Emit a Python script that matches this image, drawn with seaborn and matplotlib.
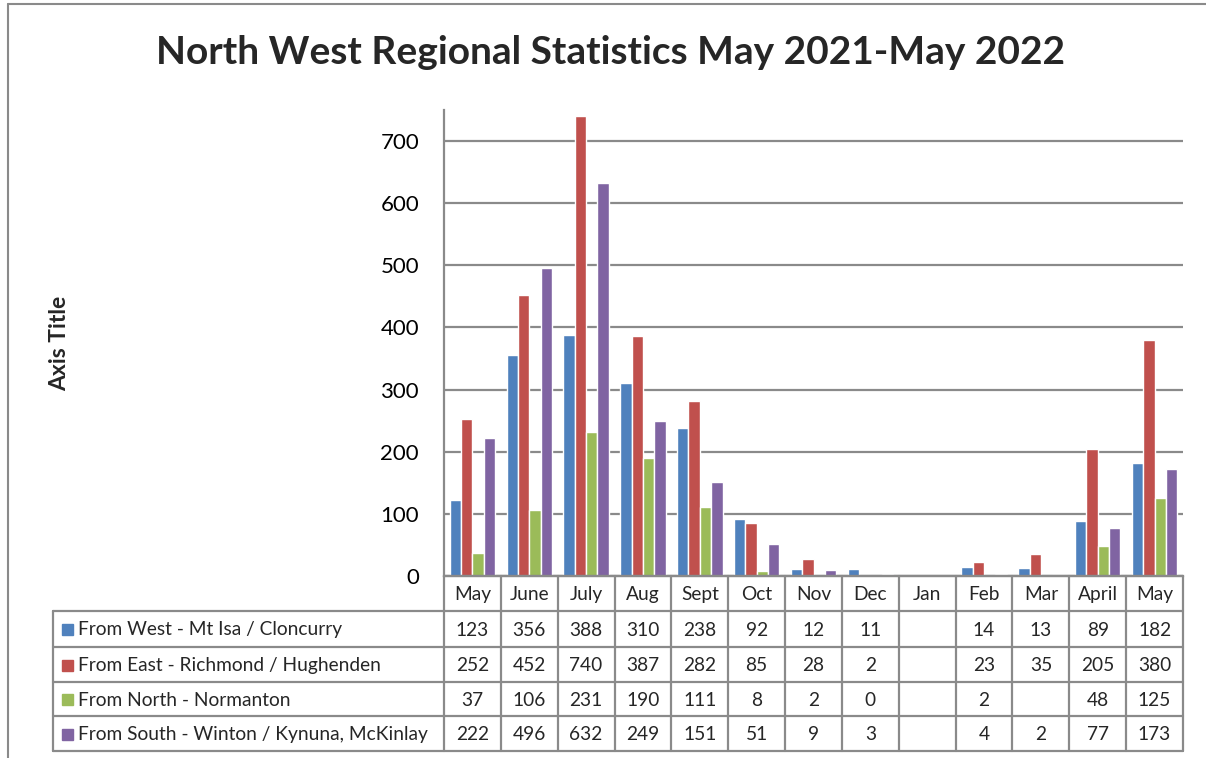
import matplotlib
matplotlib.use("Agg")
import matplotlib.pyplot as plt
from matplotlib.patches import Rectangle
import seaborn as sns
import numpy as np
import pandas as pd

months = ["May", "June", "July", "Aug", "Sept", "Oct", "Nov", "Dec", "Jan", "Feb", "Mar", "April", "May"]
series_names = [
    "From West - Mt Isa / Cloncurry",
    "From East - Richmond / Hughenden",
    "From North - Normanton",
    "From South - Winton / Kynuna, McKinlay",
]
west = [123, 356, 388, 310, 238, 92, 12, 11, None, 14, 13, 89, 182]
east = [252, 452, 740, 387, 282, 85, 28, 2, None, 23, 35, 205, 380]
north = [37, 106, 231, 190, 111, 8, 2, 0, None, 2, None, 48, 125]
south = [222, 496, 632, 249, 151, 51, 9, 3, None, 4, 2, 77, 173]
colors = ["#4F81BD", "#C0504D", "#9BBB59", "#8064A2"]

all_series = [west, east, north, south]
rows = []
for name, vals in zip(series_names, all_series):
    for i, v in enumerate(vals):
        rows.append({"pos": i, "series": name, "value": np.nan if v is None else v})
df = pd.DataFrame(rows)

sns.set_style("white")
FONT = ["Lato", "DejaVu Sans"]
plt.rcParams["font.family"] = FONT

W, H = 1206, 758
fig = plt.figure(figsize=(W / 100, H / 100), dpi=100)

def fx(px):
    return px / W

def fy(py):
    return 1 - py / H

GRAY = "#8A8A8A"
L, R, T, B = 444, 1183, 110, 576
ax = fig.add_axes([fx(L), fy(B), fx(R - L), (B - T) / H])
sns.barplot(data=df, x="pos", y="value", hue="series", hue_order=series_names,
            palette=colors, width=0.8, saturation=1, ax=ax, legend=False, errorbar=None)
ax.set_xlim(-0.5, 12.5)
ax.set_ylim(0, 750)
ax.set_yticks(range(0, 701, 100))
ax.set_xticks([])
ax.set_xlabel("")
ax.set_ylabel("")
ax.yaxis.grid(True, color=GRAY, linewidth=1.6)
ax.set_axisbelow(True)
for s in ["top", "right"]:
    ax.spines[s].set_visible(False)
for s in ["left", "bottom"]:
    ax.spines[s].set_color(GRAY)
    ax.spines[s].set_linewidth(1.6)
ax.tick_params(axis="y", length=0, pad=18, labelsize=16, labelcolor="black")

# Table
tax = fig.add_axes([0, 0, 1, 1], facecolor="none")
tax.set_xlim(0, W)
tax.set_ylim(H, 0)
tax.axis("off")
colw = (R - L) / 13
row_y = [B, 611, 647, 682, 716, 751]
TL = 53
lw = 1.6
tax.plot([L, R], [B, B], color=GRAY, lw=lw)
for y in row_y[1:]:
    tax.plot([TL, R], [y, y], color=GRAY, lw=lw)
tax.plot([TL, TL], [row_y[1], row_y[-1]], color=GRAY, lw=lw)
for k in range(14):
    x = L + k * colw
    tax.plot([x, x], [B, row_y[-1]], color=GRAY, lw=lw)
fs = 13.8
for k, m in enumerate(months):
    cx = L + (k + 0.5) * colw
    tax.text(cx, (row_y[0] + row_y[1]) / 2 + 1, m, ha="center", va="center", fontsize=fs)
for r, (name, vals, c) in enumerate(zip(series_names, all_series, colors)):
    cy = (row_y[r + 1] + row_y[r + 2]) / 2 + 1
    tax.add_patch(Rectangle((62, cy - 6), 11, 11, color=c))
    tax.text(78, cy, name, ha="left", va="center", fontsize=13.8)
    for k, v in enumerate(vals):
        if v is not None:
            tax.text(L + (k + 0.5) * colw, cy, str(v), ha="center", va="center", fontsize=fs)

# outer border
tax.plot([8, 8], [4, H], color=GRAY, lw=1.5)
tax.plot([8, W], [4, 4], color=GRAY, lw=1.5)

fig.text(fx(611), fy(52), "North West Regional Statistics May 2021-May 2022",
         ha="center", va="center", fontsize=28, fontweight="bold")
fig.text(fx(60), fy(343), "Axis Title", ha="center", va="center", rotation=90,
         fontsize=16.5, fontweight="bold")

fig.savefig("out.png", dpi=100)
